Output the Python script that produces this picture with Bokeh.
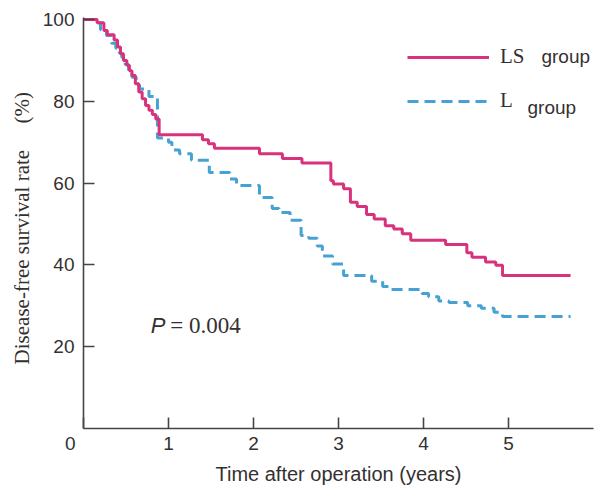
from bokeh.plotting import figure
from bokeh.models import Range1d, FixedTicker, Label, Legend, LegendItem
from bokeh.embed import file_html
from bokeh.resources import INLINE

# LS group (solid): drop times (years) and survival (%) after each drop
ls_time = [0, 0.16, 0.24, 0.28, 0.36, 0.40, 0.435, 0.47, 0.51, 0.54, 0.57, 0.61,
           0.65, 0.69, 0.73, 0.77, 0.81, 0.85, 0.89, 1.40, 1.47, 1.54, 2.07, 2.34,
           2.57, 2.91, 2.94, 3.06, 3.14, 3.22, 3.33, 3.42, 3.55, 3.65, 3.75, 3.85,
           4.26, 4.51, 4.57, 4.73, 4.85, 4.93]
ls_surv = [100, 99.2, 97.3, 96.3, 95.0, 93.3, 91.6, 90.0, 88.8, 87.5, 86.3, 84.3,
           82.3, 80.6, 79.0, 77.8, 76.8, 75.7, 71.8, 70.6, 69.6, 68.5, 67.2, 66.0,
           64.9, 60.6, 59.8, 58.6, 55.3, 54.3, 52.3, 51.2, 49.6, 48.8, 47.6, 46.0,
           45.0, 43.0, 41.9, 40.7, 39.9, 37.4]

# L group (dashed)
l_time = [0, 0.12, 0.20, 0.27, 0.33, 0.38, 0.42, 0.45, 0.49, 0.53, 0.57, 0.62,
          0.66, 0.77, 0.87, 1.00, 1.04, 1.13, 1.27, 1.48, 1.72, 1.80, 2.07, 2.22,
          2.30, 2.43, 2.56, 2.65, 2.75, 2.81, 2.93, 3.06, 3.39, 3.52, 3.62, 3.98,
          4.06, 4.18, 4.30, 4.52, 4.68, 4.83, 4.93]
l_surv = [100, 99.2, 97.5, 96.1, 94.2, 93.0, 91.8, 90.8, 89.0, 87.5, 85.9, 84.0,
          83.0, 81.2, 71.0, 70.0, 68.1, 67.2, 65.6, 62.6, 61.0, 59.4, 56.5, 53.8,
          52.8, 50.9, 47.2, 46.5, 44.6, 42.2, 40.2, 37.4, 36.0, 34.7, 34.0, 33.0,
          32.2, 31.2, 30.8, 30.0, 29.4, 28.4, 27.4]

end_time = 5.73
x_ticks = [0, 1, 2, 3, 4, 5]
y_ticks = [20, 40, 60, 80, 100]

PINK = "#d8327c"
BLUE = "#47a2d4"
AXIS = "#4a4343"
TEXT = "#353030"

p = figure(width=601, height=488, x_range=Range1d(0, 6), y_range=Range1d(0, 100.49),
           output_backend="svg", toolbar_location=None,
           min_border_left=83, min_border_right=8, min_border_top=17, min_border_bottom=60)
p.xgrid.visible = False
p.ygrid.visible = False
p.outline_line_color = None
p.background_fill_color = "white"

for ax in (p.xaxis[0], p.yaxis[0]):
    ax.axis_line_color = AXIS
    ax.axis_line_width = 1.6
    ax.major_tick_line_color = AXIS
    ax.major_tick_line_width = 1.6
    ax.major_tick_in = 11
    ax.major_tick_out = 0
    ax.minor_tick_line_color = None
    ax.major_label_text_font = "Liberation Sans"
    ax.major_label_text_font_size = "19px"
    ax.major_label_text_color = TEXT
    ax.axis_label_text_font_style = "normal"
    ax.axis_label_text_color = TEXT

p.xaxis.ticker = FixedTicker(ticks=x_ticks)
p.xaxis.major_label_overrides = {0: "0" + "\u00a0" * 5}
p.xaxis.major_label_standoff = 4
p.yaxis.ticker = FixedTicker(ticks=y_ticks)
p.yaxis.major_label_standoff = 9
p.xaxis.axis_label = "Time after operation (years)"
p.xaxis.axis_label_text_font = "Liberation Sans"
p.xaxis.axis_label_text_font_size = "20px"
p.xaxis.axis_label_standoff = 6
p.yaxis.axis_label = "Disease-free survival rate" + "\u00a0" * 5 + "(%)" + "\u00a0" * 2
p.yaxis.axis_label_text_font = "Liberation Serif"
p.yaxis.axis_label_text_font_size = "21px"
p.yaxis.axis_label_standoff = 6

r_l = p.step(l_time + [end_time], l_surv + [l_surv[-1]], mode="after",
             line_color=BLUE, line_width=3, line_dash="11 6")
r_ls = p.step(ls_time + [end_time], ls_surv + [ls_surv[-1]], mode="after",
              line_color=PINK, line_width=3)

legend = Legend(items=[LegendItem(label="LS", renderers=[r_ls]),
                       LegendItem(label="L", renderers=[r_l])],
                location=(324, 315), orientation="vertical",
                glyph_width=82, glyph_height=20, label_height=20, spacing=19,
                label_standoff=11, padding=0, margin=0,
                border_line_color=None, background_fill_alpha=0,
                label_text_font="Liberation Serif", label_text_font_size="21px",
                label_text_color=TEXT)
p.add_layout(legend)

p.add_layout(Label(x=5.388, y=90.9, text="group", text_font="Liberation Sans",
                   text_font_size="19px", text_color=TEXT, text_baseline="alphabetic"))
p.add_layout(Label(x=5.224, y=78.6, text="group", text_font="Liberation Sans",
                   text_font_size="19px", text_color=TEXT, text_baseline="alphabetic"))

p.add_layout(Label(x=0.79, y=25.2, text="P", text_font="Liberation Sans",
                   text_font_style="italic", text_font_size="22px", text_color=TEXT,
                   text_baseline="alphabetic"))
p.add_layout(Label(x=1.02, y=25.2, text="= 0.004", text_font="Liberation Serif",
                   text_font_size="23px", text_color=TEXT, text_baseline="alphabetic"))

open("out.html", "w").write(file_html(p, INLINE))
